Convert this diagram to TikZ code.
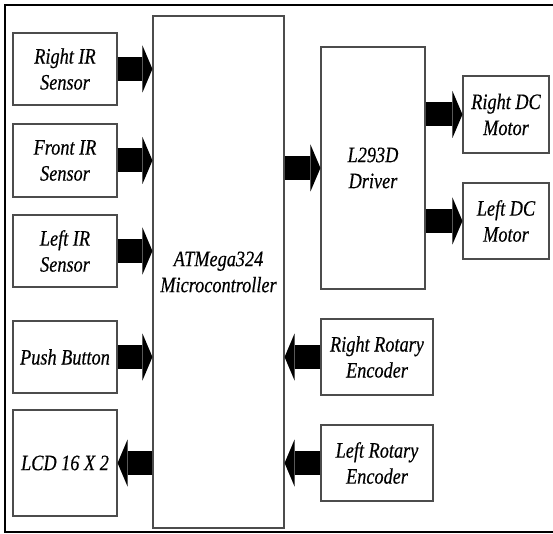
\documentclass[tikz,border=0pt]{standalone}
\usepackage{fontspec}
\setmainfont{Liberation Serif}[FakeStretch=0.83,FakeBold=0.4]
\usetikzlibrary{arrows.meta}
\begin{document}
\begin{tikzpicture}[x=1pt,y=-1pt,
  blk/.style={draw=black!70, line width=1.1pt, fill=white, inner sep=0pt, align=center,
    font=\fontsize{22}{26}\selectfont\itshape},
  fat/.style={line width=24pt, -{Triangle[length=10pt,width=47pt,line width=0pt]}}]
\useasboundingbox (0,0) rectangle (553,534);
\draw[line width=2pt] (5,5) rectangle (556,532);
% microcontroller
\node[blk, minimum width=131pt, minimum height=512pt] (mcu) at (218.5,272) {ATMega324\\Microcontroller};
% left column
\node[blk, minimum width=104pt, minimum height=72pt] (ris) at (65,69) {Right IR\\Sensor};
\node[blk, minimum width=104pt, minimum height=73pt] (fis) at (65,160.5) {Front IR\\Sensor};
\node[blk, minimum width=104pt, minimum height=72pt] (lis) at (65,251) {Left IR\\Sensor};
\node[blk, minimum width=104pt, minimum height=72pt] (pb) at (65,357) {Push Button};
\node[blk, minimum width=104pt, minimum height=106pt] (lcd) at (65,463) {LCD 16 X 2};
% driver and motors
\node[blk, minimum width=104pt, minimum height=242pt] (drv) at (373,168) {L293D\\Driver};
\node[blk, minimum width=86pt, minimum height=77pt] (rdc) at (506,114.5) {Right DC\\Motor};
\node[blk, minimum width=86pt, minimum height=76pt] (ldc) at (506,221) {Left DC\\Motor};
% encoders
\node[blk, minimum width=112pt, minimum height=76pt] (rre) at (377,357) {Right Rotary\\Encoder};
\node[blk, minimum width=112pt, minimum height=76pt] (lre) at (377,463) {Left Rotary\\Encoder};
% connectors
\draw[fat] (ris.east) -- (ris.east -| mcu.west);
\draw[fat] (fis.east) -- (fis.east -| mcu.west);
\draw[fat] (lis.east) -- (lis.east -| mcu.west);
\draw[fat] (pb.east) -- (pb.east -| mcu.west);
\draw[fat] (lcd.east -| mcu.west) -- (lcd.east);
\draw[fat] (drv.west -| mcu.east) -- (drv.west);
\draw[fat] (rdc.west -| drv.east) -- (rdc.west);
\draw[fat] (ldc.west -| drv.east) -- (ldc.west);
\draw[fat] (rre.west) -- (rre.west -| mcu.east);
\draw[fat] (lre.west) -- (lre.west -| mcu.east);
\end{tikzpicture}
\end{document}
